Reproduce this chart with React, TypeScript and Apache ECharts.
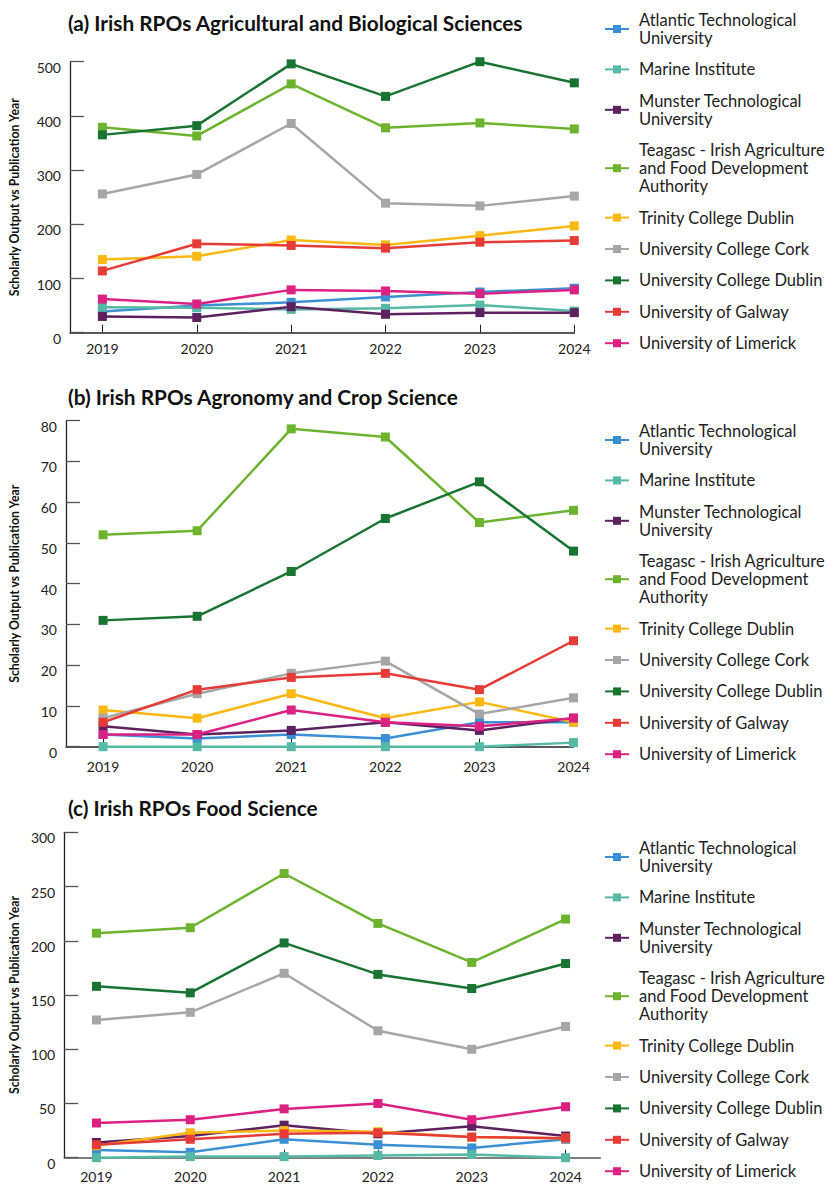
import React, { useEffect, useRef } from "react";
import * as echarts from "echarts";

const years = [2019, 2020, 2021, 2022, 2023, 2024];

const institutions = [
  "Atlantic Technological University",
  "Marine Institute",
  "Munster Technological University",
  "Teagasc - Irish Agriculture and Food Development Authority",
  "Trinity College Dublin",
  "University College Cork",
  "University College Dublin",
  "University of Galway",
  "University of Limerick",
];

const legendLabels = [
  "Atlantic Technological\nUniversity",
  "Marine Institute",
  "Munster Technological\nUniversity",
  "Teagasc - Irish Agriculture\nand Food Development\nAuthority",
  "Trinity College Dublin",
  "University College Cork",
  "University College Dublin",
  "University of Galway",
  "University of Limerick",
];

const colors = [
  "#3b8fd4",
  "#55b9a5",
  "#5e2160",
  "#6cb42e",
  "#fdb813",
  "#a6a6a6",
  "#1a7431",
  "#e63b36",
  "#dc2183",
];

// (a) Agricultural and Biological Sciences, one row per institution
const agriBioValues = [
  [39, 50, 56, 66, 75, 82],
  [47, 46, 43, 45, 51, 40],
  [30, 28, 48, 34, 37, 37],
  [379, 363, 459, 378, 387, 376],
  [135, 141, 171, 162, 179, 197],
  [256, 292, 386, 239, 234, 252],
  [365, 382, 496, 436, 500, 461],
  [114, 164, 161, 156, 167, 170],
  [62, 53, 79, 77, 72, 79],
];

// (b) Agronomy and Crop Science
const agronomyValues = [
  [3, 2, 3, 2, 6, 6],
  [0, 0, 0, 0, 0, 1],
  [5, 3, 4, 6, 4, 7],
  [52, 53, 78, 76, 55, 58],
  [9, 7, 13, 7, 11, 6],
  [7, 13, 18, 21, 8, 12],
  [31, 32, 43, 56, 65, 48],
  [6, 14, 17, 18, 14, 26],
  [3, 3, 9, 6, 5, 7],
];

// (c) Food Science
const foodValues = [
  [7, 5, 17, 12, 9, 17],
  [0, 1, 1, 2, 3, 0],
  [14, 20, 30, 22, 29, 20],
  [207, 212, 262, 216, 180, 220],
  [11, 23, 25, 24, 19, 18],
  [127, 134, 170, 117, 100, 121],
  [158, 152, 198, 169, 156, 179],
  [12, 17, 22, 23, 19, 18],
  [32, 35, 45, 50, 35, 47],
];

const titles = [
  "(a) Irish RPOs Agricultural and Biological Sciences",
  "(b) Irish RPOs Agronomy and Crop Science",
  "(c) Irish RPOs Food Science",
];
const yMaxes = [500, 80, 300];
const yIntervals = [100, 10, 50];
const panelValues = [agriBioValues, agronomyValues, foodValues];
const yAxisName = "Scholarly Output vs Publication Year";

const layouts = [
  { titleTop: 12, top: 61.7, height: 271, left: 68.3, width: 506, xMin: 2018.657, xMax: 2024, nameGap: 50, legendTop: 11, xLine: "#222", xMargin: 9 },
  { titleTop: 386, top: 420.7, height: 326, left: 63.5, width: 510, xMin: 2018.606, xMax: 2024, nameGap: 46, legendTop: 422, xLine: "#222", xMargin: 13 },
  { titleTop: 797, top: 832.3, height: 325.4, left: 58.7, width: 541.6, xMin: 2018.657, xMax: 2024.37, nameGap: 41, legendTop: 839, xLine: "#555", xMargin: 12 },
];

const FONT = "Lato";

function buildOption() {
  const grid: any[] = [];
  const xAxis: any[] = [];
  const yAxis: any[] = [];
  const series: any[] = [];
  const title: any[] = [];
  const legend: any[] = [];

  layouts.forEach((L, i) => {
    title.push({
      text: titles[i],
      left: 68,
      top: L.titleTop,
      padding: 0,
      textStyle: { fontFamily: FONT, fontSize: 20.8, fontWeight: "bold", color: "#111" },
    });
    grid.push({ left: L.left, top: L.top, width: L.width, height: L.height });
    xAxis.push({
      type: "value",
      gridIndex: i,
      min: L.xMin,
      max: L.xMax,
      splitLine: { show: false },
      axisLine: { show: true, onZero: false, lineStyle: { color: L.xLine, width: 1.5 } },
      axisTick: { show: true, inside: true, length: 8, customValues: years, lineStyle: { color: "#222" } },
      axisLabel: {
        customValues: years,
        formatter: (v: number) => String(Math.round(v)),
        margin: L.xMargin,
        color: "#222",
        fontSize: 14,
        fontFamily: FONT,
      },
    });
    yAxis.push({
      type: "value",
      gridIndex: i,
      min: 0,
      max: yMaxes[i],
      interval: yIntervals[i],
      name: yAxisName,
      nameLocation: "middle",
      nameGap: L.nameGap,
      nameRotate: 90,
      nameTextStyle: { fontFamily: FONT, fontSize: 12.3, fontWeight: "bold", color: "#111" },
      axisLine: { show: true, lineStyle: { color: "#222", width: 1.3 } },
      axisTick: { show: true, inside: true, length: 14, lineStyle: { color: "#555", width: 1.3 } },
      axisLabel: {
        margin: 9,
        color: "#222",
        fontSize: 14,
        fontFamily: FONT,
        verticalAlign: "top",
        lineHeight: 11,
      },
      splitLine: { show: false },
    });
    institutions.forEach((name, k) => {
      series.push({
        type: "line",
        name,
        xAxisIndex: i,
        yAxisIndex: i,
        data: years.map((y, j) => [y, panelValues[i][k][j]]),
        symbol: "rect",
        symbolSize: 9,
        showAllSymbol: true,
        clip: false,
        color: colors[k],
        lineStyle: { width: 2.5, color: colors[k] },
        itemStyle: { color: colors[k] },
      });
    });
    legend.push({
      orient: "vertical",
      left: 604,
      top: L.legendTop,
      padding: 0,
      itemGap: 13.4,
      itemWidth: 24,
      itemHeight: 10,
      selectedMode: false,
      data: institutions,
      formatter: (n: string) => legendLabels[institutions.indexOf(n)],
      textStyle: { fontFamily: FONT, fontSize: 16.5, color: "#222", lineHeight: 18, padding: [0, 0, 0, 5] },
    });
  });

  return { animation: false, backgroundColor: "#fff", title, grid, xAxis, yAxis, series, legend };
}

export default function App() {
  const ref = useRef<HTMLDivElement>(null);
  useEffect(() => {
    if (!ref.current) return;
    const chart = echarts.init(ref.current, null, { renderer: "svg" });
    chart.setOption(buildOption() as any);
    return () => chart.dispose();
  }, []);
  return (
    <div
      ref={ref}
      style={{ position: "absolute", left: 0, top: 0, width: 828, height: 1184, background: "#fff" }}
    />
  );
}
